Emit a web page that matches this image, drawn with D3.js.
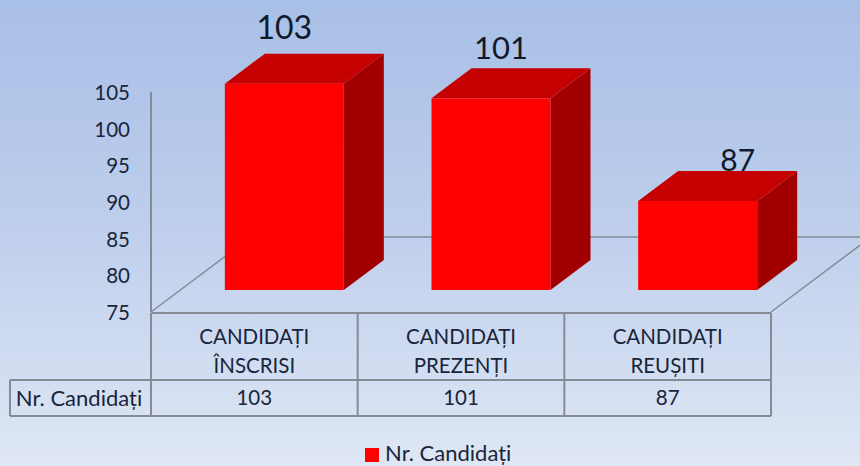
<!DOCTYPE html>
<html>
<head>
<meta charset="utf-8">
<script src="https://cdn.jsdelivr.net/npm/d3@7/dist/d3.min.js"></script>
<style>html,body{margin:0;padding:0;overflow:hidden}svg{display:block}text{font-family:Lato,"Open Sans",sans-serif;fill:#18253a}</style>
</head>
<body>
<svg id="c" width="860" height="466"></svg>
<script>
const categories = [["CANDIDAȚI","ÎNSCRISI"],["CANDIDAȚI","PREZENȚI"],["CANDIDAȚI","REUȘITI"]];
const values = [103,101,87];
const seriesName = "Nr. Candidați";
const yTicks = [75,80,85,90,95,100,105];

const svg = d3.select("#c");
const defs = svg.append("defs");
const g = defs.append("linearGradient").attr("id","bg").attr("x1",0).attr("y1",0).attr("x2",0).attr("y2",1);
g.append("stop").attr("offset","0%").attr("stop-color","#a8bfe7");
g.append("stop").attr("offset","50%").attr("stop-color","#bfcfec");
g.append("stop").attr("offset","100%").attr("stop-color","#dfe7f5");
svg.append("rect").attr("width",860).attr("height",466).attr("fill","url(#bg)");

const line = "#858c96";
const y = d3.scaleLinear().domain([75,105]).range([312,92]);
const x = d3.scaleBand().domain(d3.range(categories.length)).range([151,771]);
const depth = {dx:40, dy:-30}, barW = 119, frontLift = 23, barShift = 30;

// floor + axis
const floor = [[151,312],[251,237],[871,237],[771,312]];
svg.append("path").attr("fill","none").attr("stroke",line).attr("stroke-width",1.5)
  .attr("d",d3.line()(floor));
svg.append("line").attr("x1",151).attr("x2",151).attr("y1",y(105)).attr("y2",y(75))
  .attr("stroke",line).attr("stroke-width",2);

// y axis via d3
const axis = svg.append("g").attr("transform","translate(130,0)")
  .call(d3.axisLeft(y).tickValues(yTicks).tickSize(0).tickPadding(0));
axis.select(".domain").remove();
axis.selectAll("text").attr("font-size",20.5).attr("dy","0.36em")
  .style("font-family",'Lato,"Open Sans",sans-serif').style("fill","#18253a");

// data labels, drawn under the bars
const labelStyle = [{size:32,ox:0,up:56},{size:31,ox:10,up:50},{size:30,ox:40,up:41}];
const barX = i => x(i)+x.bandwidth()/2-barW/2+barShift;
const barTop = v => y(v)-frontLift, base = y(75)-22;
values.forEach((v,i)=>{
  const s = labelStyle[i];
  svg.append("text").attr("x",barX(i)+barW/2+s.ox).attr("y",barTop(v)-s.up)
    .attr("dy","0.36em").attr("text-anchor","middle").attr("font-size",s.size).style("fill","#0f1a2a").text(v);
});

// bars
const bars = svg.selectAll("g.bar").data(values).join("g").attr("class","bar");
bars.append("path").attr("fill","#a00000").attr("d",(v,i)=>{
  const r=barX(i)+barW;
  return d3.line()([[r,barTop(v)],[r+depth.dx,barTop(v)+depth.dy],[r+depth.dx,base+depth.dy],[r,base]])+"Z";
});
bars.append("path").attr("fill","#c40000").attr("d",(v,i)=>{
  const l=barX(i), r=l+barW;
  return d3.line()([[l,barTop(v)],[l+depth.dx,barTop(v)+depth.dy],[r+depth.dx,barTop(v)+depth.dy],[r,barTop(v)]])+"Z";
});
bars.append("rect").attr("fill","#ff0000")
  .attr("x",(v,i)=>barX(i)).attr("y",v=>barTop(v)).attr("width",barW).attr("height",v=>base-barTop(v));

// data table
const rowTop=313,rowMid=380,rowBot=416,tableLeft=10;
const gridLines=[[151,rowTop,771,rowTop],[tableLeft,rowMid,771,rowMid],[tableLeft,rowBot,771,rowBot],[tableLeft,rowMid,tableLeft,rowBot]];
x.domain().forEach(i=>gridLines.push([x(i),rowTop,x(i),rowBot]));
gridLines.push([771,rowTop,771,rowBot]);
svg.selectAll("line.grid").data(gridLines).join("line").attr("class","grid")
  .attr("x1",d=>d[0]).attr("y1",d=>d[1]).attr("x2",d=>d[2]).attr("y2",d=>d[3])
  .attr("stroke",line).attr("stroke-width",2);

categories.forEach((c,i)=>{
  const cx=x(i)+x.bandwidth()/2;
  c.forEach((t,k)=>svg.append("text").attr("x",cx).attr("y",337+k*29).attr("dy","0.36em")
    .attr("text-anchor","middle").attr("font-size",20.5).text(t));
  svg.append("text").attr("x",cx).attr("y",398).attr("dy","0.36em")
    .attr("text-anchor","middle").attr("font-size",20.5).text(values[i]);
});
svg.append("text").attr("x",79).attr("y",398).attr("dy","0.36em").attr("text-anchor","middle")
  .attr("font-size",22).text(seriesName);

// legend
svg.append("rect").attr("x",365).attr("y",448).attr("width",14).attr("height",14).attr("fill","#ff0000");
svg.append("text").attr("x",385).attr("y",453).attr("dy","0.36em").attr("font-size",22).text(seriesName);
</script>
</body>
</html>
